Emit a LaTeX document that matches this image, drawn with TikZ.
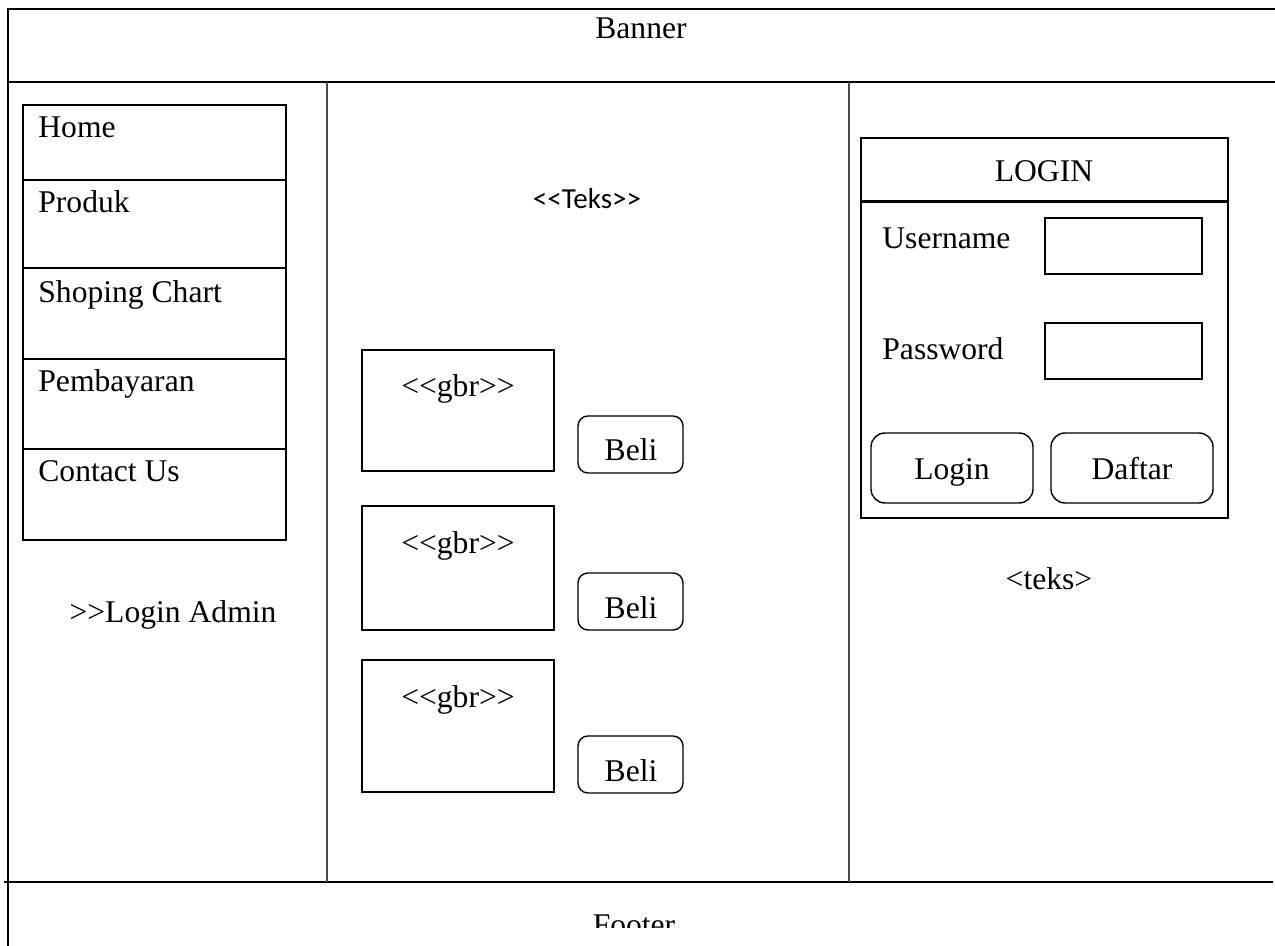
\documentclass[tikz,border=0pt]{standalone}
\usepackage{fontspec}
\setmainfont{Liberation Serif}
\newfontfamily\calibrifont{Carlito}
\begin{document}
\begin{tikzpicture}[x=0.5pt,y=-0.5pt,
  outline/.style={line width=1.3pt,line cap=rect},
  divider/.style={line width=0.8pt,draw=black!70},
  cell/.style={draw,line width=0.9pt,anchor=north west,inner sep=0,outer sep=0},
  btn/.style={cell,rounded corners=5pt,line width=0.7pt},
  lbl/.style={font=\fontsize{15.8}{19}\selectfont,inner sep=0},
  sans/.style={font=\calibrifont\fontsize{14.5}{17}\selectfont,inner sep=0}]
\useasboundingbox (0,0) rectangle (1275,946);

% page frame: banner band, footer band and the column dividers
\coordinate (tl) at (8,9);
\coordinate (tr) at (1275,9);
\coordinate (bl) at (8,946);
\coordinate (hl) at (8,82);
\coordinate (hr) at (1275,82);
\coordinate (fl) at (5,882);
\coordinate (fr) at (1272,882);
\coordinate (c1t) at (327,82);
\coordinate (c1b) at (327,882);
\coordinate (c2t) at (849,82);
\coordinate (c2b) at (849,882);
\draw[outline] (tr) -- (tl) -- (bl);
\draw[outline] (hl) -- (hr);
\draw[outline] (fl) -- (fr);
\draw[divider] (c1t) -- (c1b);
\draw[divider] (c2t) -- (c2b);
\node[lbl,anchor=base] (banner) at (641,39) {Banner};
\begin{scope}
  \clip (0,884) rectangle (1275,927);
  \node[lbl,anchor=base] (footer) at (634,935) {Footer};
\end{scope}

% left column: menu
\node[cell,minimum width=131.5pt,minimum height=37.5pt] (m1) at (23,105) {};
\node[cell,minimum width=131.5pt,minimum height=44pt]   (m2) at (23,180) {};
\node[cell,minimum width=131.5pt,minimum height=45.5pt] (m3) at (23,268) {};
\node[cell,minimum width=131.5pt,minimum height=45pt]   (m4) at (23,359) {};
\node[cell,minimum width=131.5pt,minimum height=45.5pt] (m5) at (23,449) {};
\node[lbl,anchor=base west] (t1) at (38,138) {Home};
\node[lbl,anchor=base west] (t2) at (38,213) {Produk};
\node[lbl,anchor=base west] (t3) at (38,303) {Shoping Chart};
\node[lbl,anchor=base west] (t4) at (38,392) {Pembayaran};
\node[lbl,anchor=base west] (t5) at (38,482) {Contact Us};
\node[lbl,anchor=base] (admin) at (173,623) {>{}>Login Admin};

% middle column: product list
\node[sans,anchor=base] (teks) at (587,209) {<{}<Teks>{}>};
\node[cell,minimum width=96pt,minimum height=60.5pt] (g1) at (362,350) {};
\node[cell,minimum width=96pt,minimum height=62pt]   (g2) at (362,506) {};
\node[cell,minimum width=96pt,minimum height=66pt]   (g3) at (362,660) {};
\node[lbl,anchor=base] (gt1) at (458,397) {<{}<gbr>{}>};
\node[lbl,anchor=base] (gt2) at (458,553) {<{}<gbr>{}>};
\node[lbl,anchor=base] (gt3) at (458,707) {<{}<gbr>{}>};
\node[btn,minimum width=52.5pt,minimum height=28.5pt] (b1) at (578,416) {};
\node[btn,minimum width=52.5pt,minimum height=28.5pt] (b2) at (578,573) {};
\node[btn,minimum width=52.5pt,minimum height=28.5pt] (b3) at (578,736) {};
\node[lbl,anchor=base] (bt1) at (631,461) {Beli};
\node[lbl,anchor=base] (bt2) at (631,618) {Beli};
\node[lbl,anchor=base] (bt3) at (631,781) {Beli};

% right column: login form
\node[cell,minimum width=183.5pt,minimum height=190pt] (login) at (861,138) {};
\coordinate (lhl) at (861,202);
\coordinate (lhr) at (1228,202);
\draw[line width=1.5pt] (lhl) -- (lhr);
\node[lbl,anchor=base] (ltitle) at (1044,182) {LOGIN};
\node[lbl,anchor=base west] (user) at (882,249) {Username};
\node[lbl,anchor=base west] (pass) at (882,360) {Password};
\node[cell,minimum width=78.5pt,minimum height=28pt] (uf) at (1045,218) {};
\node[cell,minimum width=78.5pt,minimum height=28pt] (pf) at (1045,323) {};
\node[btn,rounded corners=7pt,minimum width=81pt,minimum height=35pt] (lb) at (871,433) {};
\node[btn,rounded corners=7pt,minimum width=81pt,minimum height=35pt] (db) at (1051,433) {};
\node[lbl,anchor=base] (lbt) at (952,480) {Login};
\node[lbl,anchor=base] (dbt) at (1132,480) {Daftar};
\node[lbl,anchor=base] (rteks) at (1049,589) {<teks>};
\end{tikzpicture}
\end{document}
